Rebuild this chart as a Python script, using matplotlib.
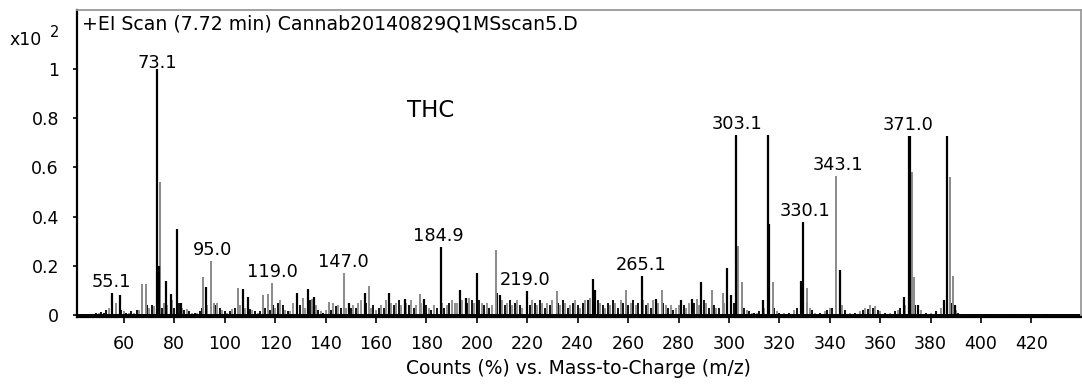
import matplotlib
matplotlib.use("Agg")
import matplotlib.pyplot as plt

plt.rcParams['font.family'] = ['DejaVu Sans']

# main peaks (m/z, relative counts x100)
black_mz = [55.2, 58.3, 73.1, 74.0, 76.8, 78.8, 81.0, 82.6, 92.7, 107.1, 109.1,
            128.8, 133.1, 135.5, 149.2, 155.5, 165.3, 171.5, 179.0, 185.7, 193.3,
            195.7, 200.2, 209.2, 219.8, 246.2, 246.9, 265.4, 271.0, 281.0, 285.3,
            289.0, 299.1, 300.8, 303.0, 313.6, 315.4, 315.9, 328.6, 329.5, 344.0,
            369.3, 371.6, 371.9, 375.0, 385.5, 386.4, 389.6]
black_h = [0.09, 0.08, 1.0, 0.2, 0.14, 0.085, 0.35, 0.05, 0.115, 0.105, 0.075,
           0.09, 0.105, 0.075, 0.05, 0.09, 0.09, 0.065, 0.065, 0.275, 0.1,
           0.07, 0.17, 0.08, 0.097, 0.146, 0.1, 0.158, 0.065, 0.06, 0.065,
           0.135, 0.19, 0.08, 0.73, 0.06, 0.73, 0.37, 0.14, 0.377, 0.183,
           0.075, 0.726, 0.726, 0.04, 0.06, 0.726, 0.04]

gray_mz = [56.8, 67.1, 68.7, 74.4, 76.0, 91.2, 94.6, 95.8, 105.2, 115.2, 117.1,
           118.7, 131.2, 134.5, 141.5, 147.3, 157.3, 177.5, 191.3, 207.5, 231.7,
           259.1, 273.4, 287.2, 293.4, 297.5, 303.5, 305.0, 317.3, 330.8, 340.1,
           342.5, 372.6, 373.6, 387.5, 389.0]
gray_h = [0.05, 0.125, 0.125, 0.54, 0.05, 0.155, 0.22, 0.05, 0.11, 0.08, 0.085,
          0.13, 0.07, 0.065, 0.055, 0.17, 0.12, 0.085, 0.05, 0.264, 0.097,
          0.1, 0.1, 0.065, 0.1, 0.09, 0.28, 0.135, 0.135, 0.11, 0.03,
          0.564, 0.58, 0.155, 0.56, 0.158]

# small background peaks
minor_black_mz = [47, 49, 51, 52, 53, 59, 61, 63, 65, 69, 71, 75, 80, 82, 84, 86, 88,
                  90, 91, 96, 98, 100, 102, 104, 110, 112, 114, 116, 118, 119, 121,
                  123, 125, 130, 134, 137, 139, 142, 144, 146, 150, 152, 156, 159,
                  161, 163, 167, 169, 173, 175, 180, 182, 184, 187, 189, 196, 198,
                  201, 203, 205, 208, 211, 213, 215, 217, 221, 223, 225, 227, 229,
                  232, 234, 236, 238, 240, 242, 244, 248, 250, 252, 254, 256, 258,
                  260, 262, 264, 267, 269, 274, 276, 278, 282, 286, 290, 292, 294,
                  296, 302, 306, 308, 310, 312, 318, 320, 324, 327, 331, 333, 336,
                  339, 341, 346, 350, 353, 355, 357, 359, 362, 366, 368, 374, 378,
                  382, 388, 391, 396, 403, 411, 418, 426, 433]
minor_black_h = [0.005, 0.008, 0.012, 0.01, 0.02, 0.02, 0.01, 0.015, 0.02, 0.04,
                 0.04, 0.03, 0.03, 0.05, 0.02, 0.015, 0.01, 0.015, 0.03, 0.04, 0.03,
                 0.015, 0.015, 0.03, 0.025, 0.015, 0.015, 0.03, 0.02, 0.04, 0.05,
                 0.04, 0.015, 0.04, 0.06, 0.02, 0.01, 0.02, 0.035, 0.03, 0.03, 0.03,
                 0.05, 0.04, 0.03, 0.03, 0.04, 0.06, 0.04, 0.03, 0.04, 0.02, 0.03,
                 0.03, 0.05, 0.05, 0.06, 0.06, 0.04, 0.03, 0.09, 0.04, 0.06, 0.05,
                 0.04, 0.04, 0.05, 0.06, 0.03, 0.04, 0.05, 0.06, 0.03, 0.05, 0.04,
                 0.05, 0.06, 0.06, 0.04, 0.05, 0.06, 0.03, 0.05, 0.04, 0.06, 0.05,
                 0.04, 0.03, 0.05, 0.03, 0.02, 0.04, 0.05, 0.06, 0.03, 0.04, 0.03,
                 0.05, 0.03, 0.015, 0.01, 0.015, 0.03, 0.01, 0.01, 0.03, 0.05, 0.02,
                 0.01, 0.02, 0.03, 0.02, 0.01, 0.02, 0.025, 0.03, 0.02, 0.01, 0.015,
                 0.03, 0.04, 0.01, 0.015, 0.05, 0.01, 0.005, 0.006, 0.004, 0.005,
                 0.006, 0.004]

minor_gray_mz = [50, 54, 57, 60, 62, 64, 66, 70, 72, 77, 79, 83, 85, 87, 89, 93, 97,
                 99, 101, 103, 106, 108, 111, 113, 120, 122, 124, 126, 127, 132,
                 136, 138, 140, 143, 145, 148, 151, 153, 154, 158, 160, 162, 164,
                 166, 168, 170, 172, 174, 176, 178, 181, 183, 186, 188, 190, 192,
                 194, 197, 199, 202, 204, 206, 210, 212, 214, 216, 218, 220, 222,
                 224, 226, 228, 230, 233, 235, 237, 239, 241, 243, 245, 249, 251,
                 253, 255, 257, 261, 263, 266, 268, 270, 272, 275, 277, 279, 280,
                 283, 284, 288, 291, 295, 298, 301, 307, 309, 311, 314, 316, 319,
                 322, 326, 332, 334, 338, 345, 348, 352, 354, 356, 358, 360, 364,
                 367, 370, 376, 380, 384, 390]
minor_gray_h = [0.01, 0.03, 0.03, 0.015, 0.01, 0.01, 0.02, 0.03, 0.035, 0.04, 0.06,
                0.03, 0.025, 0.01, 0.01, 0.04, 0.05, 0.02, 0.01, 0.025, 0.04, 0.03,
                0.02, 0.01, 0.03, 0.06, 0.02, 0.015, 0.05, 0.03, 0.04, 0.015, 0.02,
                0.05, 0.04, 0.03, 0.04, 0.05, 0.06, 0.03, 0.02, 0.04, 0.06, 0.05,
                0.05, 0.04, 0.05, 0.06, 0.04, 0.05, 0.03, 0.04, 0.05, 0.04, 0.06,
                0.05, 0.06, 0.07, 0.05, 0.05, 0.05, 0.04, 0.06, 0.05, 0.04, 0.06,
                0.03, 0.05, 0.06, 0.04, 0.05, 0.05, 0.06, 0.04, 0.05, 0.04, 0.06,
                0.03, 0.06, 0.07, 0.05, 0.03, 0.04, 0.05, 0.06, 0.05, 0.04, 0.06,
                0.05, 0.06, 0.05, 0.04, 0.04, 0.03, 0.04, 0.03, 0.05, 0.04, 0.05,
                0.03, 0.05, 0.06, 0.02, 0.01, 0.01, 0.03, 0.06, 0.015, 0.01, 0.02,
                0.03, 0.01, 0.015, 0.04, 0.01, 0.015, 0.03, 0.04, 0.035, 0.015,
                0.01, 0.02, 0.04, 0.02, 0.01, 0.03, 0.02]

# annotated peaks: label text and the height of the peak under it
label_mz = [55.1, 73.1, 95.0, 119.0, 147.0, 184.9, 219.0, 265.1, 303.1, 330.1, 343.1, 371.0]
label_h = [0.09, 1.0, 0.22, 0.13, 0.17, 0.275, 0.097, 0.158, 0.73, 0.377, 0.564, 0.726]

x_ticks = list(range(60, 421, 20))
y_ticks = [0, 0.2, 0.4, 0.6, 0.8, 1]
y_tick_labels = ["0", "0.2", "0.4", "0.6", "0.8", "1"]

GRAY = "#8a8a8a"

fig = plt.figure(figsize=(10.82, 3.85), dpi=100)
ax = fig.add_axes([0.0712, 0.1766, 0.9275, 0.7974])

ax.vlines(minor_gray_mz, 0, minor_gray_h, color=GRAY, lw=1.3)
ax.vlines(minor_black_mz, 0, minor_black_h, color="black", lw=1.3)
ax.vlines(gray_mz, 0, gray_h, color=GRAY, lw=1.4)
ax.vlines(black_mz, 0, black_h, color="black", lw=1.6)
ax.axhline(0, color="black", lw=1.4)

for mz, h in zip(label_mz, label_h):
    off = 1 if mz == 73.1 else 4.5
    ax.annotate(f"{mz:.1f}", (mz, h), xytext=(0, off), textcoords="offset points",
                ha="center", va="baseline", fontsize=12.8)

ax.text(181.5, 0.83, "THC", ha="center", va="center", fontsize=16.5)
ax.text(0.005, 0.955, "+EI Scan (7.72 min) Cannab20140829Q1MSscan5.D",
        transform=ax.transAxes, ha="left", va="center", fontsize=13.6)
fig.text(0.009, 0.883, "x10", ha="left", va="baseline", fontsize=12.5)
fig.text(0.046, 0.905, "2", ha="left", va="baseline", fontsize=10.5)

ax.set_xlim(41.4, 439.5)
ax.set_ylim(-0.008, 1.24)
ax.set_xticks(x_ticks)
ax.set_yticks(y_ticks)
ax.set_yticklabels(y_tick_labels)
ax.tick_params(axis="both", direction="out", length=4, width=1.2, labelsize=12.5, pad=9)
ax.tick_params(axis="y", length=3, pad=10)
ax.set_xlabel("Counts (%) vs. Mass-to-Charge (m/z)", fontsize=13.5, labelpad=4)

ax.spines["left"].set_linewidth(1.6)
ax.spines["bottom"].set_linewidth(1.6)
for s in ("top", "right"):
    ax.spines[s].set_color("#9a9a9a")
    ax.spines[s].set_linewidth(1.3)

fig.savefig("out.png", dpi=100)
